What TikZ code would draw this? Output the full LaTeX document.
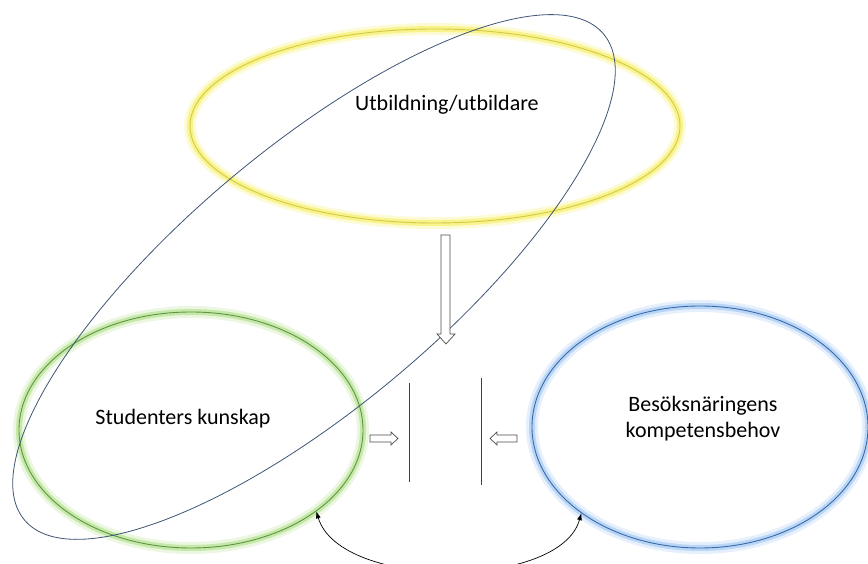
\documentclass[tikz,border=0pt]{standalone}
\usepackage{fontspec}
\setmainfont{Carlito}
\usetikzlibrary{shapes.geometric,arrows.meta}

\definecolor{ylwglow}{HTML}{F7EE5A}
\definecolor{ylwline}{HTML}{D2C84A}
\definecolor{grnglow}{HTML}{AEDE84}
\definecolor{grnline}{HTML}{5E9444}
\definecolor{bluglow}{HTML}{9CC4F2}
\definecolor{bluline}{HTML}{3A68A8}
\definecolor{tiltline}{HTML}{3E5474}

\tikzset{
  glow/.style 2 args={shape=ellipse, inner sep=0pt, draw=#2, line width=0.9pt,
    preaction={draw=#1!25, line width=12pt},
    preaction={draw=#1!70, line width=6pt}},
  lbl/.style={font=\fontsize{22}{26}\selectfont, align=center},
  blk/.style={draw=black!70, line width=0.7pt, fill=white},
}

\begin{document}
\begin{tikzpicture}[x=1pt,y=1pt]
\useasboundingbox (0,0) rectangle (868,564);

\node[glow={ylwglow}{ylwline}, minimum width=490pt, minimum height=194pt] at (435,438) (edu) {};
\node[glow={grnglow}{grnline}, minimum width=344pt, minimum height=236pt] at (191,134) (stud) {};
\node[glow={bluglow}{bluline}, minimum width=336pt, minimum height=242pt] at (700,137) (need) {};

\node[ellipse, draw=tiltline, line width=0.8pt, inner sep=0pt, minimum width=756pt, minimum height=258pt, rotate=40] at (314,287) (overlap) {};

\node[lbl] at (447,459) (edutext) {Utbildning/utbildare};
\node[lbl] at (183,145) (studtext) {Studenters kunskap};
\node[lbl] at (703,145) (needtext) {Besöksnäringens\\kompetensbehov};

% block arrows
\draw[blk] (441,329) -- (450,329) -- (450,230) -- (455,230) -- (446,220) -- (437,230) -- (441,230) -- cycle;
\draw[blk] (370,129) -- (391,129) -- (391,132) -- (398,125.5) -- (391,119) -- (391,122) -- (370,122) -- cycle;
\draw[blk] (517,129) -- (497,129) -- (497,132) -- (490,125.5) -- (497,119) -- (497,122) -- (517,122) -- cycle;

% the two bars
\draw[black!75, line width=0.8pt] (409,181) -- (409,82);
\draw[black!75, line width=0.8pt] (481,186) -- (481,79);

\draw[{Latex[length=7pt,width=5pt]}-{Latex[length=7pt,width=5pt]}, line width=0.7pt] (stud.-33) .. controls (340,-26) and (560,-26) .. (need.-144);
\end{tikzpicture}
\end{document}
